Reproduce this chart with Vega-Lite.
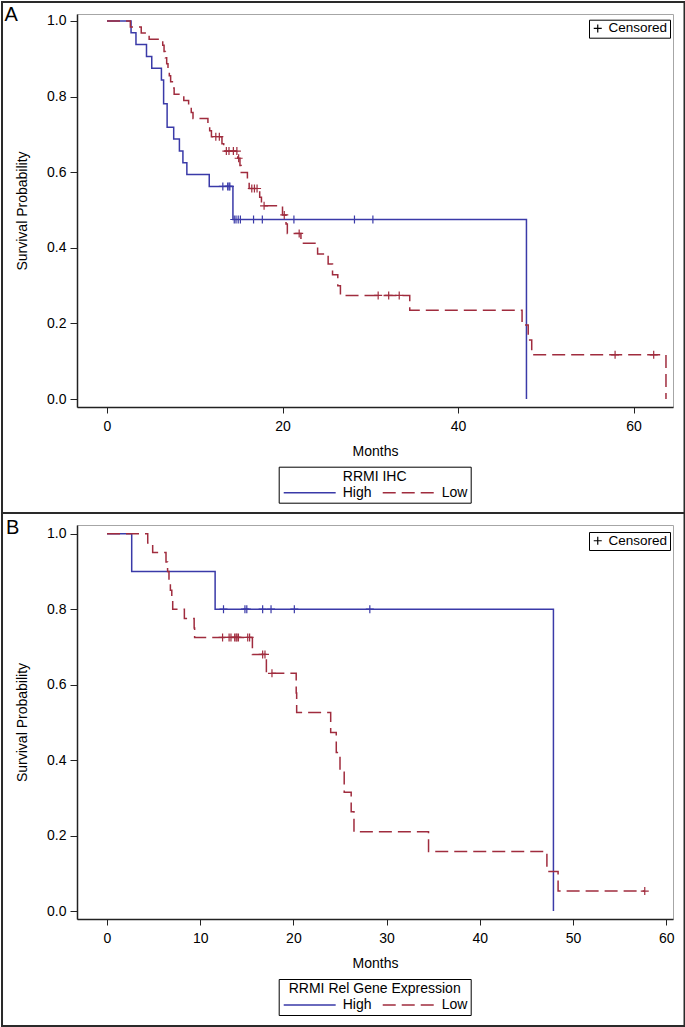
{
  "$schema": "https://vega.github.io/schema/vega-lite/v6.json",
  "background": "white",
  "padding": 0,
  "spacing": 118,
  "bounds": "flush",
  "config": {
    "font": "Liberation Sans",
    "view": {"stroke": "#a6a6a6", "strokeWidth": 1},
    "axis": {
      "domainColor": "#222222", "domainWidth": 1.5, "tickColor": "#222222", "tickWidth": 1,
      "labelFont": "Liberation Sans", "labelFontSize": 14, "labelColor": "black",
      "titleFont": "Liberation Sans", "titleFontSize": 14, "titleFontWeight": "normal", "titleColor": "black",
      "grid": false, "labelFlush": false, "labelOverlap": false
    },
    "legend": {
      "labelFont": "Liberation Sans", "labelFontSize": 14, "labelColor": "black",
      "titleFont": "Liberation Sans", "titleFontSize": 14, "titleFontWeight": "normal", "titleColor": "black",
      "strokeColor": "black", "padding": 3
    }
  },
  "resolve": {"scale": {"x": "independent", "y": "independent", "color": "independent", "strokeDash": "independent", "shape": "independent"}},
  "datasets": {
    "A": [
      {"g": "High", "t": 0, "s": 1, "c": "E"},
      {"g": "High", "t": 2.74, "s": 0.969, "c": "E"},
      {"g": "High", "t": 3.3, "s": 0.938, "c": "E"},
      {"g": "High", "t": 4.5, "s": 0.906, "c": "E"},
      {"g": "High", "t": 5.1, "s": 0.875, "c": "E"},
      {"g": "High", "t": 6.2, "s": 0.844, "c": "E"},
      {"g": "High", "t": 6.45, "s": 0.781, "c": "E"},
      {"g": "High", "t": 6.85, "s": 0.719, "c": "E"},
      {"g": "High", "t": 7.6, "s": 0.688, "c": "E"},
      {"g": "High", "t": 8.25, "s": 0.656, "c": "E"},
      {"g": "High", "t": 8.65, "s": 0.625, "c": "E"},
      {"g": "High", "t": 9.1, "s": 0.594, "c": "E"},
      {"g": "High", "t": 11.65, "s": 0.5625, "c": "E"},
      {"g": "High", "t": 13.2, "s": 0.5625, "c": "Censored"},
      {"g": "High", "t": 13.75, "s": 0.5625, "c": "Censored"},
      {"g": "High", "t": 13.9, "s": 0.5625, "c": "Censored"},
      {"g": "High", "t": 14.0, "s": 0.5625, "c": "Censored"},
      {"g": "High", "t": 14.35, "s": 0.475, "c": "E"},
      {"g": "High", "t": 14.5, "s": 0.475, "c": "Censored"},
      {"g": "High", "t": 14.7, "s": 0.475, "c": "Censored"},
      {"g": "High", "t": 14.95, "s": 0.475, "c": "Censored"},
      {"g": "High", "t": 15.2, "s": 0.475, "c": "Censored"},
      {"g": "High", "t": 16.7, "s": 0.475, "c": "Censored"},
      {"g": "High", "t": 17.7, "s": 0.475, "c": "Censored"},
      {"g": "High", "t": 21.3, "s": 0.475, "c": "Censored"},
      {"g": "High", "t": 28.2, "s": 0.475, "c": "Censored"},
      {"g": "High", "t": 30.3, "s": 0.475, "c": "Censored"},
      {"g": "High", "t": 47.8, "s": 0, "c": "E"},
      {"g": "Low", "t": 0, "s": 1, "c": "E"},
      {"g": "Low", "t": 2.66, "s": 0.984, "c": "E"},
      {"g": "Low", "t": 3.9, "s": 0.968, "c": "E"},
      {"g": "Low", "t": 4.8, "s": 0.952, "c": "E"},
      {"g": "Low", "t": 6.35, "s": 0.936, "c": "E"},
      {"g": "Low", "t": 6.5, "s": 0.919, "c": "E"},
      {"g": "Low", "t": 6.65, "s": 0.903, "c": "E"},
      {"g": "Low", "t": 6.8, "s": 0.887, "c": "E"},
      {"g": "Low", "t": 6.95, "s": 0.871, "c": "E"},
      {"g": "Low", "t": 7.1, "s": 0.855, "c": "E"},
      {"g": "Low", "t": 7.25, "s": 0.839, "c": "E"},
      {"g": "Low", "t": 7.45, "s": 0.823, "c": "E"},
      {"g": "Low", "t": 7.65, "s": 0.806, "c": "E"},
      {"g": "Low", "t": 8.75, "s": 0.79, "c": "E"},
      {"g": "Low", "t": 9.3, "s": 0.774, "c": "E"},
      {"g": "Low", "t": 9.6, "s": 0.758, "c": "E"},
      {"g": "Low", "t": 9.8, "s": 0.742, "c": "E"},
      {"g": "Low", "t": 11.5, "s": 0.726, "c": "E"},
      {"g": "Low", "t": 11.7, "s": 0.71, "c": "E"},
      {"g": "Low", "t": 11.9, "s": 0.694, "c": "E"},
      {"g": "Low", "t": 12.4, "s": 0.694, "c": "Censored"},
      {"g": "Low", "t": 12.8, "s": 0.694, "c": "Censored"},
      {"g": "Low", "t": 13.1, "s": 0.675, "c": "E"},
      {"g": "Low", "t": 13.3, "s": 0.656, "c": "E"},
      {"g": "Low", "t": 13.6, "s": 0.656, "c": "Censored"},
      {"g": "Low", "t": 13.9, "s": 0.656, "c": "Censored"},
      {"g": "Low", "t": 14.4, "s": 0.656, "c": "Censored"},
      {"g": "Low", "t": 14.8, "s": 0.656, "c": "Censored"},
      {"g": "Low", "t": 14.9, "s": 0.637, "c": "E"},
      {"g": "Low", "t": 15.0, "s": 0.637, "c": "Censored"},
      {"g": "Low", "t": 15.15, "s": 0.618, "c": "E"},
      {"g": "Low", "t": 15.3, "s": 0.599, "c": "E"},
      {"g": "Low", "t": 16.0, "s": 0.578, "c": "E"},
      {"g": "Low", "t": 16.2, "s": 0.557, "c": "E"},
      {"g": "Low", "t": 16.5, "s": 0.557, "c": "Censored"},
      {"g": "Low", "t": 16.8, "s": 0.557, "c": "Censored"},
      {"g": "Low", "t": 17.1, "s": 0.557, "c": "Censored"},
      {"g": "Low", "t": 17.4, "s": 0.534, "c": "E"},
      {"g": "Low", "t": 17.6, "s": 0.511, "c": "E"},
      {"g": "Low", "t": 17.9, "s": 0.511, "c": "Censored"},
      {"g": "Low", "t": 20.0, "s": 0.487, "c": "E"},
      {"g": "Low", "t": 20.2, "s": 0.487, "c": "Censored"},
      {"g": "Low", "t": 20.4, "s": 0.463, "c": "E"},
      {"g": "Low", "t": 20.55, "s": 0.438, "c": "E"},
      {"g": "Low", "t": 21.9, "s": 0.438, "c": "Censored"},
      {"g": "Low", "t": 22.1, "s": 0.412, "c": "E"},
      {"g": "Low", "t": 24.0, "s": 0.384, "c": "E"},
      {"g": "Low", "t": 25.2, "s": 0.357, "c": "E"},
      {"g": "Low", "t": 25.7, "s": 0.329, "c": "E"},
      {"g": "Low", "t": 26.3, "s": 0.3, "c": "E"},
      {"g": "Low", "t": 26.6, "s": 0.274, "c": "E"},
      {"g": "Low", "t": 30.9, "s": 0.274, "c": "Censored"},
      {"g": "Low", "t": 32.1, "s": 0.274, "c": "Censored"},
      {"g": "Low", "t": 33.3, "s": 0.274, "c": "Censored"},
      {"g": "Low", "t": 34.5, "s": 0.235, "c": "E"},
      {"g": "Low", "t": 47.3, "s": 0.196, "c": "E"},
      {"g": "Low", "t": 48.0, "s": 0.156, "c": "E"},
      {"g": "Low", "t": 48.4, "s": 0.117, "c": "E"},
      {"g": "Low", "t": 57.9, "s": 0.117, "c": "Censored"},
      {"g": "Low", "t": 62.3, "s": 0.117, "c": "Censored"},
      {"g": "Low", "t": 63.7, "s": 0, "c": "E"}
    ],
    "B": [
      {"g": "High", "t": 0, "s": 1, "c": "E"},
      {"g": "High", "t": 2.65, "s": 0.9, "c": "E"},
      {"g": "High", "t": 11.6, "s": 0.8, "c": "E"},
      {"g": "High", "t": 12.5, "s": 0.8, "c": "Censored"},
      {"g": "High", "t": 14.8, "s": 0.8, "c": "Censored"},
      {"g": "High", "t": 15.0, "s": 0.8, "c": "Censored"},
      {"g": "High", "t": 16.7, "s": 0.8, "c": "Censored"},
      {"g": "High", "t": 17.6, "s": 0.8, "c": "Censored"},
      {"g": "High", "t": 20.1, "s": 0.8, "c": "Censored"},
      {"g": "High", "t": 28.2, "s": 0.8, "c": "Censored"},
      {"g": "High", "t": 47.9, "s": 0, "c": "E"},
      {"g": "Low", "t": 0, "s": 1, "c": "E"},
      {"g": "Low", "t": 4.37, "s": 0.975, "c": "E"},
      {"g": "Low", "t": 4.9, "s": 0.95, "c": "E"},
      {"g": "Low", "t": 6.33, "s": 0.925, "c": "E"},
      {"g": "Low", "t": 6.5, "s": 0.9, "c": "E"},
      {"g": "Low", "t": 6.65, "s": 0.875, "c": "E"},
      {"g": "Low", "t": 6.8, "s": 0.85, "c": "E"},
      {"g": "Low", "t": 6.95, "s": 0.825, "c": "E"},
      {"g": "Low", "t": 7.05, "s": 0.8, "c": "E"},
      {"g": "Low", "t": 8.3, "s": 0.775, "c": "E"},
      {"g": "Low", "t": 9.35, "s": 0.75, "c": "E"},
      {"g": "Low", "t": 9.4, "s": 0.725, "c": "E"},
      {"g": "Low", "t": 12.4, "s": 0.725, "c": "Censored"},
      {"g": "Low", "t": 13.1, "s": 0.725, "c": "Censored"},
      {"g": "Low", "t": 13.3, "s": 0.725, "c": "Censored"},
      {"g": "Low", "t": 13.7, "s": 0.725, "c": "Censored"},
      {"g": "Low", "t": 13.85, "s": 0.725, "c": "Censored"},
      {"g": "Low", "t": 13.95, "s": 0.725, "c": "Censored"},
      {"g": "Low", "t": 14.1, "s": 0.725, "c": "Censored"},
      {"g": "Low", "t": 15.1, "s": 0.725, "c": "Censored"},
      {"g": "Low", "t": 15.3, "s": 0.725, "c": "Censored"},
      {"g": "Low", "t": 15.6, "s": 0.68, "c": "E"},
      {"g": "Low", "t": 16.7, "s": 0.68, "c": "Censored"},
      {"g": "Low", "t": 16.95, "s": 0.68, "c": "Censored"},
      {"g": "Low", "t": 17.1, "s": 0.63, "c": "E"},
      {"g": "Low", "t": 17.7, "s": 0.63, "c": "Censored"},
      {"g": "Low", "t": 20.3, "s": 0.578, "c": "E"},
      {"g": "Low", "t": 20.35, "s": 0.526, "c": "E"},
      {"g": "Low", "t": 24.0, "s": 0.473, "c": "E"},
      {"g": "Low", "t": 24.6, "s": 0.42, "c": "E"},
      {"g": "Low", "t": 25.0, "s": 0.368, "c": "E"},
      {"g": "Low", "t": 25.45, "s": 0.315, "c": "E"},
      {"g": "Low", "t": 26.2, "s": 0.263, "c": "E"},
      {"g": "Low", "t": 26.5, "s": 0.21, "c": "E"},
      {"g": "Low", "t": 34.5, "s": 0.158, "c": "E"},
      {"g": "Low", "t": 47.2, "s": 0.105, "c": "E"},
      {"g": "Low", "t": 48.4, "s": 0.053, "c": "E"},
      {"g": "Low", "t": 57.7, "s": 0.053, "c": "Censored"}
    ]
  },
  "vconcat": [
    {
      "width": 596,
      "height": 393,
      "data": {"name": "A"},
      "layer": [
        {
          "data": {"values": [{"panel": "A"}]},
          "mark": {"type": "rect", "filled": false, "fill": null, "stroke": "#2a2a2a", "strokeWidth": 2, "clip": false},
          "encoding": {
            "x": {"datum": -11.966, "type": "quantitative"},
            "x2": {"datum": 65.81},
            "y": {"datum": 1.0502, "type": "quantitative"},
            "y2": {"datum": -0.3014}
          }
        },
        {
          "data": {"values": [{"panel": "A"}]},
          "mark": {"type": "text", "align": "left", "baseline": "alphabetic", "fontSize": 20, "font": "Liberation Sans", "color": "black"},
          "encoding": {
            "x": {"datum": -11.68, "type": "quantitative"},
            "y": {"datum": 1.0, "type": "quantitative"},
            "text": {"field": "panel"}
          }
        },
        {
          "mark": {"type": "line", "interpolate": "step-after", "strokeWidth": 1.5},
          "encoding": {
            "x": {"field": "t", "type": "quantitative", "scale": {"domain": [-3.42, 64.5], "nice": false, "zero": false},
                  "axis": {"title": "Months", "values": [0, 20, 40, 60], "tickSize": 6, "labelPadding": 6, "titlePadding": 11}},
            "y": {"field": "s", "type": "quantitative", "scale": {"domain": [-0.021, 1.0185], "nice": false, "zero": false},
                  "axis": {"title": "Survival Probability", "values": [0, 0.2, 0.4, 0.6, 0.8, 1], "format": ".1f", "tickSize": 7, "labelPadding": 4, "titlePadding": 17}},
            "color": {"field": "g", "type": "nominal", "scale": {"domain": ["High", "Low"], "range": ["#3a3aa8", "#a02c3e"]},
                      "legend": {"title": "RRMI IHC", "orient": "none", "legendX": 201.7, "legendY": 452.7, "direction": "horizontal", "titleAnchor": "middle", "symbolType": "M-5,0H5", "symbolSize": 108, "symbolOffset": 21, "symbolStrokeWidth": 1.5, "labelOffset": 26, "columnPadding": 8, "titlePadding": 2}},
            "strokeDash": {"field": "g", "type": "nominal", "scale": {"domain": ["High", "Low"], "range": [[1, 0], [13, 6]]},
                           "legend": {"title": "RRMI IHC", "orient": "none", "legendX": 201.7, "legendY": 452.7, "direction": "horizontal", "titleAnchor": "middle", "symbolType": "M-5,0H5", "symbolSize": 108, "symbolOffset": 21, "symbolStrokeWidth": 1.5, "labelOffset": 26, "columnPadding": 8, "titlePadding": 2}}
          }
        },
        {
          "transform": [{"filter": "datum.c == 'Censored'"}],
          "mark": {"type": "point", "filled": false, "size": 64, "strokeWidth": 1.2, "opacity": 1},
          "encoding": {
            "x": {"field": "t", "type": "quantitative"},
            "y": {"field": "s", "type": "quantitative"},
            "color": {"field": "g", "type": "nominal"},
            "shape": {"field": "c", "type": "nominal", "scale": {"domain": ["Censored"], "range": ["M-1,0H1M0,-1V1"]},
                      "legend": {"title": null, "orient": "none", "legendX": 512, "legendY": 5.7, "symbolSize": 64, "symbolStrokeColor": "black", "symbolStrokeWidth": 1.2, "labelFontSize": 13.5, "labelOffset": 4, "padding": 2}}
          }
        }
      ]
    },
    {
      "width": 596,
      "height": 394,
      "data": {"name": "B"},
      "layer": [
        {
          "data": {"values": [{"panel": "B"}]},
          "mark": {"type": "rect", "filled": false, "fill": null, "stroke": "#2a2a2a", "strokeWidth": 2, "clip": false},
          "encoding": {
            "x": {"datum": -11.266, "type": "quantitative"},
            "x2": {"datum": 61.965},
            "y": {"datum": 1.0548, "type": "quantitative"},
            "y2": {"datum": -0.3045}
          }
        },
        {
          "data": {"values": [{"panel": "B"}]},
          "mark": {"type": "text", "align": "left", "baseline": "alphabetic", "fontSize": 20, "font": "Liberation Sans", "color": "black"},
          "encoding": {
            "x": {"datum": -10.85, "type": "quantitative"},
            "y": {"datum": 1.0, "type": "quantitative"},
            "text": {"field": "panel"}
          }
        },
        {
          "mark": {"type": "line", "interpolate": "step-after", "strokeWidth": 1.5},
          "encoding": {
            "x": {"field": "t", "type": "quantitative", "scale": {"domain": [-3.22, 60.73], "nice": false, "zero": false},
                  "axis": {"title": "Months", "values": [0, 10, 20, 30, 40, 50, 60], "tickSize": 6, "labelPadding": 6, "titlePadding": 11}},
            "y": {"field": "s", "type": "quantitative", "scale": {"domain": [-0.021, 1.023], "nice": false, "zero": false},
                  "axis": {"title": "Survival Probability", "values": [0, 0.2, 0.4, 0.6, 0.8, 1], "format": ".1f", "tickSize": 7, "labelPadding": 4, "titlePadding": 17}},
            "color": {"field": "g", "type": "nominal", "scale": {"domain": ["High", "Low"], "range": ["#3a3aa8", "#a02c3e"]},
                      "legend": {"title": "RRMI Rel Gene Expression", "orient": "none", "legendX": 201.7, "legendY": 454, "direction": "horizontal", "titleAnchor": "middle", "symbolType": "M-5,0H5", "symbolSize": 108, "symbolOffset": 21, "symbolStrokeWidth": 1.5, "labelOffset": 26, "columnPadding": 8, "titlePadding": 2}},
            "strokeDash": {"field": "g", "type": "nominal", "scale": {"domain": ["High", "Low"], "range": [[1, 0], [13, 6]]},
                           "legend": {"title": "RRMI Rel Gene Expression", "orient": "none", "legendX": 201.7, "legendY": 454, "direction": "horizontal", "titleAnchor": "middle", "symbolType": "M-5,0H5", "symbolSize": 108, "symbolOffset": 21, "symbolStrokeWidth": 1.5, "labelOffset": 26, "columnPadding": 8, "titlePadding": 2}}
          }
        },
        {
          "transform": [{"filter": "datum.c == 'Censored'"}],
          "mark": {"type": "point", "filled": false, "size": 64, "strokeWidth": 1.2, "opacity": 1},
          "encoding": {
            "x": {"field": "t", "type": "quantitative"},
            "y": {"field": "s", "type": "quantitative"},
            "color": {"field": "g", "type": "nominal"},
            "shape": {"field": "c", "type": "nominal", "scale": {"domain": ["Censored"], "range": ["M-1,0H1M0,-1V1"]},
                      "legend": {"title": null, "orient": "none", "legendX": 512, "legendY": 7, "symbolSize": 64, "symbolStrokeColor": "black", "symbolStrokeWidth": 1.2, "labelFontSize": 13.5, "labelOffset": 4, "padding": 2}}
          }
        }
      ]
    }
  ]
}
